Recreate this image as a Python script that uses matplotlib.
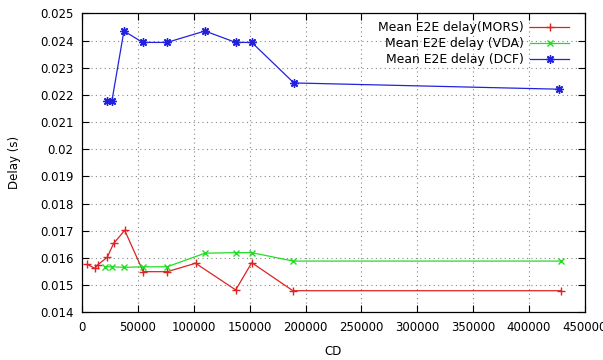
import matplotlib
matplotlib.use("Agg")
import matplotlib.pyplot as plt

mors_x = [4700, 11600, 14000, 22600, 28300, 38200, 54800, 76300, 101600, 137500, 151900, 188700, 428600]
mors_y = [0.01577, 0.01562, 0.01575, 0.01603, 0.01654, 0.01702, 0.0155, 0.0155, 0.01581, 0.01483, 0.01583, 0.0148, 0.0148]

vda_x = [21000, 26500, 37500, 54600, 76100, 110000, 137500, 151900, 189000, 428600]
vda_y = [0.01568, 0.01568, 0.01566, 0.01568, 0.01568, 0.01618, 0.0162, 0.0162, 0.01589, 0.01589]

dcf_x = [22300, 26800, 37500, 54300, 76100, 110000, 137500, 151900, 189600, 426800]
dcf_y = [0.02179, 0.02179, 0.02435, 0.02393, 0.02393, 0.02435, 0.02393, 0.02393, 0.02244, 0.02221]

x_ticks = [0, 50000, 100000, 150000, 200000, 250000, 300000, 350000, 400000, 450000]
y_ticks = [0.014, 0.015, 0.016, 0.017, 0.018, 0.019, 0.02, 0.021, 0.022, 0.023, 0.024, 0.025]
y_labels = ["0.014", "0.015", "0.016", "0.017", "0.018", "0.019", "0.02", "0.021", "0.022", "0.023", "0.024", "0.025"]

fig = plt.figure(figsize=(6.03, 3.6), dpi=100)
ax = fig.add_axes([0.136, 0.132, 0.834, 0.831])

ax.plot(mors_x, mors_y, color="#dd2222", lw=0.9, marker="+", ms=6, mew=1.0,
        label="Mean E2E delay(MORS)")
ax.plot(vda_x, vda_y, color="#22dd22", lw=0.9, marker="x", ms=5, mew=1.0,
        label="Mean E2E delay (VDA)")
ax.plot(dcf_x, dcf_y, color="#2222dd", lw=0.9, marker=(8, 2, 0), ms=6, mew=1.0,
        label="Mean E2E delay (DCF)")

ax.set_xlim(0, 450000)
ax.set_ylim(0.014, 0.025)
ax.set_xticks(x_ticks)
ax.set_xticklabels([str(t) for t in x_ticks])
ax.set_yticks(y_ticks)
ax.set_yticklabels(y_labels)
ax.tick_params(direction="in", top=True, right=True, labelsize=8.5, length=5, width=0.8,
               pad=6, colors="black")
ax.grid(True, linestyle=(0, (1, 3)), color="#888888", lw=0.8)
for s in ax.spines.values():
    s.set_linewidth(0.9)

ax.set_xlabel("CD", fontsize=8.5, labelpad=8)
ax.set_ylabel("Delay (s)", fontsize=8.5, labelpad=14)

leg = ax.legend(loc="upper right", frameon=False, markerfirst=False, fontsize=8.9,
                handlelength=3.1, bbox_to_anchor=(0.985, 1.003), borderaxespad=0.3,
                labelspacing=0.25, handletextpad=0.5)
for t in leg.get_texts():
    t.set_ha("right")
leg._legend_box.align = "right"

fig.savefig("out.png", dpi=100)
